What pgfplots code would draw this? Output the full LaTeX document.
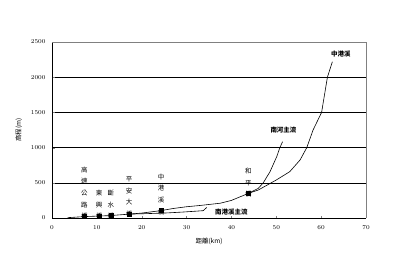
\documentclass[border=0pt]{standalone}
\usepackage{pgfplots}
\pgfplotsset{compat=1.18}
\usepackage{fontspec}
\newfontfamily\cjk{Noto Sans CJK TC}
\begin{document}
\begin{tikzpicture}
\begin{axis}[
  scale only axis, width=314bp, height=176bp,
  xmin=0, xmax=70, ymin=0, ymax=2500,
  xtick={0,10,...,70}, ytick={0,500,...,2500},
  axis x line*=bottom, axis y line*=left,
  tick align=inside, major tick length=2.5bp,
  ymajorgrids, grid style={black, line width=0.6pt},
  tick label style={font=\fontsize{6.5}{7}\selectfont},
  /pgf/number format/1000 sep={},
  xticklabel style={yshift=-4bp},
  yticklabel style={xshift=-3bp},
  xlabel={\cjk\fontsize{6.5}{7}\selectfont 距離(km)},
  ylabel={\cjk\fontsize{6.5}{7}\selectfont 高程(m)},
  xlabel style={yshift=-2bp},
  ylabel style={yshift=2bp},
  clip=false,
]
\addplot[black, line width=0.6pt] coordinates {
(3.5,5)(7.2,20)(10.5,28)(13.1,35)(17.2,55)(20,70)(24.3,105)(27,135)(30,160)(33,178)(37.5,210)(40,250)(43.8,350)(46,398)(50,540)(53,658)(55.3,824)(56.8,1000)(58.2,1250)(60.1,1500)(61.4,2000)(62.5,2220)};
\addplot[black, line width=0.6pt] coordinates {
(43.8,350)(46,422)(47.1,500)(48.6,658)(50.1,871)(50.8,1000)(51.4,1084)};
\addplot[black, line width=0.6pt] coordinates {
(17.2,55)(21,62)(25.6,72)(29.3,85)(33.7,104)(34.5,150)};
\addplot[only marks, mark=square*, mark size=2bp, black] coordinates {
(7.2,25)(10.5,30)(13.1,35)(17.2,60)(24.3,105)(43.8,350)};
\begin{scope}[every node/.style={font=\cjk\fontsize{6.5}{11.7}\selectfont, align=center, anchor=south, inner sep=0pt}]
\node at (axis cs:7.2,-20) {高\\速\\公\\路\\橋};
\node at (axis cs:10.5,-20) {東\\興\\橋};
\node at (axis cs:13.1,-20) {斷\\水\\橋};
\node at (axis cs:17.2,10) {平\\安\\大\\橋};
\node at (axis cs:24.3,45) {中\\港\\溪\\橋};
\node at (axis cs:43.8,290) {和\\平\\橋};
\end{scope}
\begin{scope}[every node/.style={font=\cjk\bfseries\fontsize{6.5}{7}\selectfont, inner sep=0pt}]
\node at (axis cs:64.4,2330) {中港溪};
\node at (axis cs:51.6,1250) {南河主流};
\node at (axis cs:40,85) {南港溪主流};
\end{scope}
\draw[gray, line width=0.6pt] (rel axis cs:0,1) -- (rel axis cs:1,1) -- (rel axis cs:1,0);
\coordinate (sw) at (rel axis cs:0,0);
\coordinate (ne) at (rel axis cs:1,1);
\end{axis}
\path ([shift={(-52bp,-47bp)}]sw) rectangle ([shift={(49bp,42bp)}]ne);
\end{tikzpicture}
\end{document}
